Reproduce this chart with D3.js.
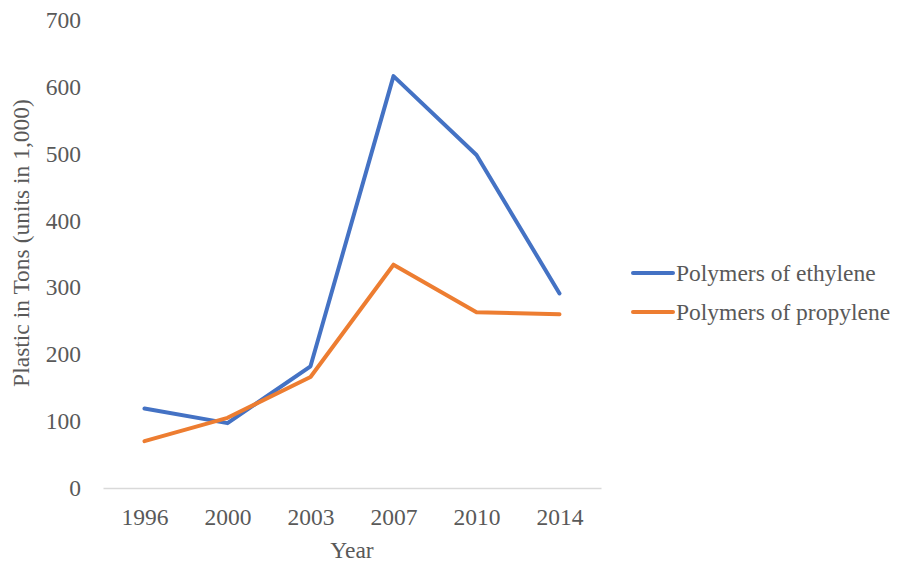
<!DOCTYPE html>
<html>
<head>
<meta charset="utf-8">
<script src="https://cdn.jsdelivr.net/npm/d3@7"></script>
<style>
  body { margin: 0; background: #fff; }
  text { font-family: "Liberation Serif", "Times New Roman", serif; fill: #595959; }
</style>
</head>
<body>
<div id="chart"></div>
<script>
const years = ['1996', '2000', '2003', '2007', '2010', '2014'];
const ethylene = [119, 97, 182, 616, 498, 291];
const propylene = [70, 105, 166, 334, 263, 260];
const yTicks = [0, 100, 200, 300, 400, 500, 600, 700];
const seriesNames = ['Polymers of ethylene', 'Polymers of propylene'];
const colors = ['#4472c4', '#ed7d31'];

const width = 898, height = 564;
const margin = {top: 20, right: 297, bottom: 76, left: 103};
const fontSize = 23.5;

const svg = d3.select('#chart').append('svg')
    .attr('width', width)
    .attr('height', height);

const x = d3.scalePoint()
    .domain(years)
    .range([margin.left, width - margin.right])
    .padding(0.5);

const y = d3.scaleLinear()
    .domain([0, 700])
    .range([height - margin.bottom, margin.top]);

// y tick labels (no axis line, no gridlines)
svg.append('g')
    .attr('transform', `translate(${margin.left - 22},0)`)
    .call(d3.axisLeft(y).tickValues(yTicks).tickSize(0).tickPadding(0))
    .call(g => g.select('.domain').remove())
    .selectAll('text')
      .attr('font-size', fontSize)
      .attr('font-family', 'Liberation Serif')
      .attr('fill', '#595959');

// x axis
const xAxis = svg.append('g')
    .attr('transform', `translate(0,${y(0)})`)
    .call(d3.axisBottom(x).tickSize(0).tickPadding(20));
xAxis.select('.domain')
    .attr('stroke', '#d9d9d9')
    .attr('stroke-width', 1.5);
xAxis.selectAll('text')
    .attr('font-size', fontSize)
    .attr('font-family', 'Liberation Serif')
    .attr('fill', '#595959');

// axis titles
svg.append('text')
    .attr('x', (margin.left + width - margin.right) / 2)
    .attr('y', 558)
    .attr('text-anchor', 'middle')
    .attr('font-size', fontSize)
    .text('Year');

svg.append('text')
    .attr('transform', `translate(29,243) rotate(-90)`)
    .attr('text-anchor', 'middle')
    .attr('font-size', fontSize)
    .text('Plastic in Tons (units in 1,000)');

// lines
const line = d3.line()
    .x((d, i) => x(years[i]))
    .y(d => y(d));

[ethylene, propylene].forEach((s, i) => {
  svg.append('path')
      .datum(s)
      .attr('fill', 'none')
      .attr('stroke', colors[i])
      .attr('stroke-width', 4)
      .attr('stroke-linejoin', 'round')
      .attr('stroke-linecap', 'round')
      .attr('d', line);
});

// legend
const legend = svg.append('g')
    .attr('transform', 'translate(633,273)');
seriesNames.forEach((name, i) => {
  const row = legend.append('g')
      .attr('transform', `translate(0,${i * 39})`);
  row.append('line')
      .attr('x1', 0)
      .attr('x2', 40)
      .attr('stroke', colors[i])
      .attr('stroke-width', 4)
      .attr('stroke-linecap', 'round');
  row.append('text')
      .attr('x', 43)
      .attr('dy', '0.35em')
      .attr('font-size', fontSize)
      .text(name);
});
</script>
</body>
</html>
